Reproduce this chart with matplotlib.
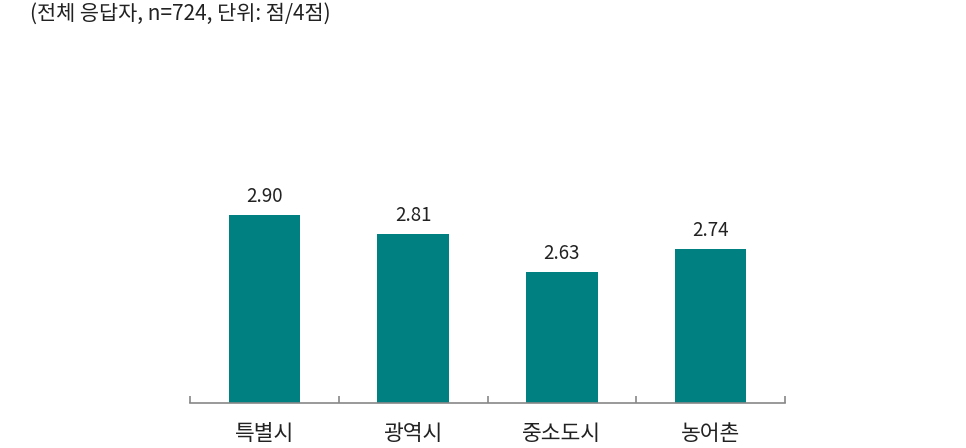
import matplotlib
matplotlib.use('Agg')
import matplotlib.pyplot as plt

plt.rcParams['font.family'] = ['Noto Sans CJK KR', 'DejaVu Sans']

categories = ['특별시', '광역시', '중소도시', '농어촌']
values = [2.90, 2.81, 2.63, 2.74]
note = '(전체 응답자, n=724, 단위: 점/4점)'

fig = plt.figure(figsize=(9.66, 4.48), dpi=100)
ax = fig.add_axes([190 / 966, 45 / 448, 595 / 966, 314 / 448])

x = range(len(categories))
bars = ax.bar(x, values, width=0.48, color='#008080', bottom=0)
ax.set_ylim(2.01, 3.5)
ax.set_xlim(-0.5, len(categories) - 0.5)

for xi, v in zip(x, values):
    ax.annotate(f'{v:.2f}', (xi, v), xytext=(0, 6), textcoords='offset points',
                ha='center', va='bottom', fontsize=13.5, color='#222222')

for s in ['top', 'right', 'left']:
    ax.spines[s].set_visible(False)
ax.spines['bottom'].set_color('#888888')
ax.spines['bottom'].set_linewidth(1.2)
ax.set_yticks([])
ax.set_xticks([-0.5, 0.5, 1.5, 2.5, 3.5])
ax.set_xticklabels([])
ax.tick_params(axis='x', direction='in', length=5, color='#888888', width=1.2)
for xi, c in zip(x, categories):
    ax.text(xi, -0.1, c, transform=ax.get_xaxis_transform(), ha='center', va='center',
            fontsize=15.5, color='#222222')

fig.text(30 / 966, 1 - 14 / 448, note, ha='left', va='center', fontsize=15, color='#222222')

fig.savefig('out.png', dpi=100)
